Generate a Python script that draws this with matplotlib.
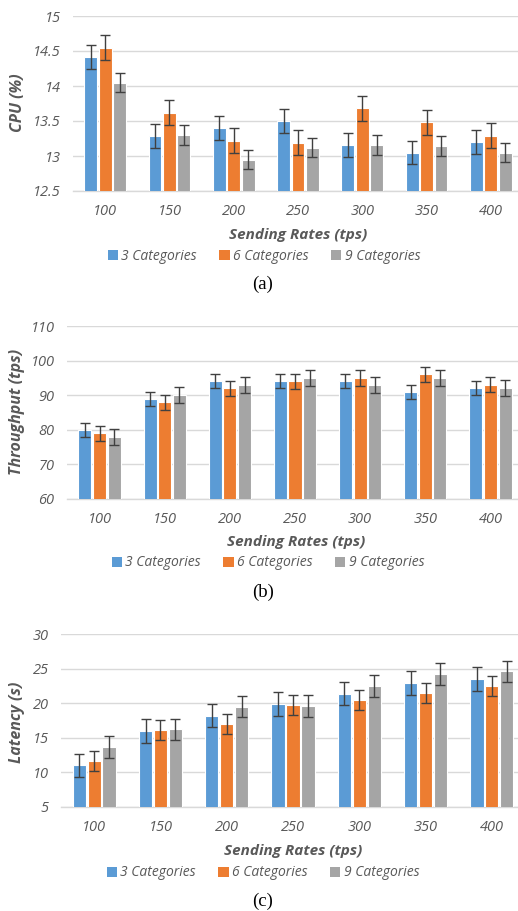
import matplotlib
matplotlib.use('Agg')
import matplotlib.pyplot as plt
import numpy as np

W, H = 518, 911

rates = ['100', '150', '200', '250', '300', '350', '400']
series_names = ['3 Categories', '6 Categories', '9 Categories']
colors = ['#5B9BD5', '#ED7D31', '#A5A5A5']

# (a) CPU
cpu_3 = [14.42, 13.29, 13.40, 13.50, 13.16, 13.05, 13.20]
cpu_6 = [14.55, 13.62, 13.22, 13.19, 13.68, 13.48, 13.29]
cpu_9 = [14.05, 13.30, 12.95, 13.12, 13.16, 13.14, 13.05]
cpu_3_err = [0.17, 0.17, 0.17, 0.17, 0.17, 0.17, 0.17]
cpu_6_err = [0.18, 0.18, 0.18, 0.18, 0.18, 0.18, 0.18]
cpu_9_err = [0.14, 0.14, 0.14, 0.14, 0.14, 0.14, 0.14]

# (b) throughput
thr_3 = [80, 89, 94, 94, 94, 91, 92]
thr_6 = [79, 88, 92, 94, 95, 96, 93]
thr_9 = [78, 90, 93, 95, 93, 95, 92]
thr_3_err = [2.0, 2.0, 2.0, 2.0, 2.0, 2.0, 2.0]
thr_6_err = [2.2, 2.2, 2.2, 2.2, 2.2, 2.2, 2.2]
thr_9_err = [2.3, 2.3, 2.3, 2.3, 2.3, 2.3, 2.3]

# (c) latency
lat_3 = [11.0, 16.0, 18.2, 19.9, 21.4, 22.9, 23.5]
lat_6 = [11.6, 16.1, 17.0, 19.7, 20.5, 21.5, 22.5]
lat_9 = [13.7, 16.2, 19.5, 19.6, 22.5, 24.2, 24.6]
lat_3_err = [1.7, 1.7, 1.7, 1.7, 1.7, 1.7, 1.7]
lat_6_err = [1.45, 1.45, 1.45, 1.45, 1.45, 1.45, 1.45]
lat_9_err = [1.55, 1.55, 1.55, 1.55, 1.55, 1.55, 1.55]

txt = '#595959'
grid = '#D9D9D9'
sans = ['Open Sans', 'DejaVu Sans']

fig = plt.figure(figsize=(W / 100, H / 100), dpi=100)


def fx(px):
    return px / W


def fy(py):
    return 1 - py / H


def panel(box, vals, errs, yticks, ylabel, ylab_xy, xlab_xy, leg_xy, cap, cap_xy):
    l, t, r, b = box
    ax = fig.add_axes([fx(l), fy(b), fx(r - l), (b - t) / H])
    x = np.arange(len(rates))
    for i in range(3):
        ax.bar(x + (i - 1) * 0.225, vals[i], 0.2, color=colors[i],
               edgecolor='white', linewidth=0.8, label=series_names[i],
               yerr=errs[i], capsize=3.5,
               error_kw=dict(ecolor='#404040', elinewidth=1, capthick=1),
               zorder=3)
    ax.set_xlim(-0.5, len(rates) - 0.5)
    ax.set_ylim(yticks[0], yticks[-1])
    ax.set_yticks(yticks)
    ax.set_yticklabels(['%g' % v for v in yticks])
    ax.set_xticks(x)
    ax.set_xticklabels(rates)
    for s in ['top', 'right', 'left']:
        ax.spines[s].set_visible(False)
    ax.spines['bottom'].set_color(grid)
    ax.spines['bottom'].set_linewidth(1)
    ax.yaxis.grid(True, color=grid, linewidth=1, zorder=0)
    ax.set_axisbelow(True)
    ax.tick_params(axis='both', length=0, colors=txt, labelsize=10.5)
    ax.tick_params(axis='x', pad=9.5)
    ax.tick_params(axis='y', pad=9)
    for lab in ax.get_xticklabels() + ax.get_yticklabels():
        lab.set_family(sans)
        lab.set_style('italic')
    fig.text(fx(ylab_xy[0]), fy(ylab_xy[1]), ylabel, rotation=90, ha='center',
             va='center', color=txt, fontsize=11.5, fontweight='bold',
             style='italic', family=sans)
    fig.text(fx(xlab_xy[0]), fy(xlab_xy[1]), 'Sending Rates (tps)', ha='center',
             va='center', color=txt, fontsize=11, fontweight='bold',
             style='italic', family=sans)
    leg = ax.legend(loc='center', bbox_to_anchor=(fx(leg_xy[0]), fy(leg_xy[1])),
                    bbox_transform=fig.transFigure, ncol=3, frameon=False,
                    handlelength=0.75, handleheight=0.75, handletextpad=0.25,
                    columnspacing=1.6, borderpad=0,
                    prop=dict(family=sans, style='italic', size=10))
    for t_ in leg.get_texts():
        t_.set_color(txt)
    for p in leg.get_patches():
        p.set_edgecolor('none')
    fig.text(fx(cap_xy[0]), fy(cap_xy[1]), cap, ha='center', va='center',
             fontsize=13.5, family='Liberation Serif', color='black')
    return ax


panel((73, 16, 523, 191), [cpu_3, cpu_6, cpu_9], [cpu_3_err, cpu_6_err, cpu_9_err],
      [12.5, 13, 13.5, 14, 14.5, 15], 'CPU (%)', (18, 103), (298, 235), (264, 256),
      '(a)', (263, 284))
panel((67, 326, 523, 499), [thr_3, thr_6, thr_9], [thr_3_err, thr_6_err, thr_9_err],
      [60, 70, 80, 90, 100, 110], 'Throughput (tps)', (17, 412), (296, 542),
      (268, 563), '(b)', (263, 592))
panel((61, 634, 525, 807), [lat_3, lat_6, lat_9], [lat_3_err, lat_6_err, lat_9_err],
      [5, 10, 15, 20, 25, 30], 'Latency (s)', (17, 722), (293, 851), (263, 873),
      '(c)', (263, 901))

fig.savefig('out.png', dpi=100)
